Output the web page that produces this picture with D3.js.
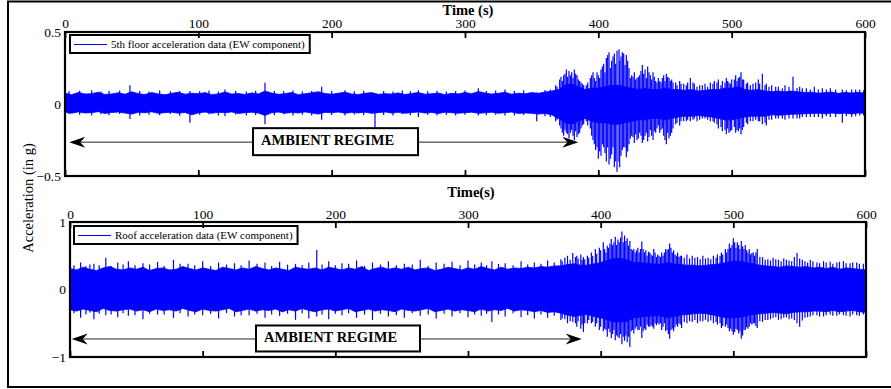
<!DOCTYPE html>
<html>
<head>
<meta charset="utf-8">
<script src="https://cdn.jsdelivr.net/npm/d3@7"></script>
<style>
  body { margin: 0; background: #fff; }
  svg { display: block; }
  text { font-family: "Liberation Serif", "Times New Roman", serif; fill: #000; }
</style>
</head>
<body>
<svg id="chart" width="891" height="389"></svg>
<script>
// ---- data -------------------------------------------------------------
const timeTicks = [0, 100, 200, 300, 400, 500, 600];
const fifthYTicks = [0.5, 0, -0.5];
const roofYTicks = [1, 0, -1];
const sampleStep = 5; // seconds between envelope samples (t = 0 … 600)

// 5th floor record: dense core of the trace (upper / lower edge, g)
const fifthCoreHi = [
  0.075,0.065,0.08,0.07,0.072,0.082,0.066,0.07,0.078,0.068,
  0.085,0.072,0.066,0.079,0.07,0.064,0.074,0.081,0.068,0.075,
  0.071,0.079,0.065,0.07,0.083,0.069,0.073,0.066,0.077,0.07,
  0.09,0.076,0.067,0.072,0.08,0.065,0.071,0.078,0.085,0.073,
  0.068,0.075,0.082,0.07,0.066,0.074,0.079,0.067,0.072,0.069,
  0.077,0.066,0.073,0.08,0.068,0.071,0.076,0.065,0.074,0.07,
  0.08,0.072,0.086,0.077,0.069,0.074,0.081,0.068,0.075,0.071,
  0.079,0.074,0.083,0.09,
  0.1,0.13,0.14,0.12,0.1,0.11,0.11,0.12,0.13,0.13,
  0.12,0.11,0.1,0.11,0.1,0.1,0.11,0.1,0.1,0.095,
  0.1,0.09,0.095,0.1,0.1,0.11,0.11,0.12,0.1,0.095,
  0.1,0.09,0.085,0.09,0.085,0.09,0.085,0.08,0.082,0.075,
  0.079,0.083,0.074,0.08,0.076,0.081,0.075
];
const fifthCoreLo = [
  -0.058,-0.064,-0.055,-0.062,-0.06,-0.053,-0.066,-0.059,-0.056,-0.063,
  -0.07,-0.058,-0.061,-0.054,-0.065,-0.06,-0.057,-0.064,-0.059,-0.075,
  -0.062,-0.056,-0.064,-0.058,-0.061,-0.055,-0.066,-0.06,-0.057,-0.063,
  -0.08,-0.061,-0.056,-0.064,-0.059,-0.062,-0.055,-0.063,-0.07,-0.058,
  -0.061,-0.056,-0.064,-0.059,-0.062,-0.057,-0.065,-0.06,-0.055,-0.063,
  -0.058,-0.064,-0.06,-0.055,-0.063,-0.059,-0.066,-0.057,-0.061,-0.064,
  -0.06,-0.057,-0.065,-0.061,-0.058,-0.064,-0.06,-0.056,-0.066,-0.062,
  -0.065,-0.07,-0.066,-0.075,
  -0.1,-0.13,-0.14,-0.12,-0.1,-0.12,-0.13,-0.13,-0.14,-0.14,
  -0.13,-0.12,-0.11,-0.11,-0.1,-0.1,-0.11,-0.1,-0.09,-0.085,
  -0.085,-0.08,-0.085,-0.09,-0.1,-0.11,-0.11,-0.1,-0.09,-0.085,
  -0.085,-0.085,-0.075,-0.078,-0.075,-0.072,-0.07,-0.068,-0.066,-0.064,
  -0.068,-0.063,-0.067,-0.064,-0.069,-0.062,-0.066
];
// 5th floor record: individual peaks [time s, max g, min g]
const fifthPeaks = [
  [3,0.088,-0.07],[11,0.092,-0.075],[20,0.095,-0.08],[27,0.086,-0.072],[33,0.09,-0.078],
  [41,0.094,-0.07],[48.7,0.13,-0.105],[56,0.09,-0.08],[63,0.087,-0.074],[71,0.093,-0.078],
  [79,0.088,-0.07],[86,0.091,-0.082],[93.7,0.09,-0.13],[101,0.089,-0.075],[108,0.094,-0.072],
  [115,0.087,-0.079],[120,0.1,-0.085],[128,0.09,-0.073],[136,0.086,-0.08],[143,0.092,-0.076],
  [150,0.148,-0.14],[157,0.09,-0.078],[164,0.088,-0.072],[171,0.093,-0.08],[178,0.087,-0.075],
  [185,0.091,-0.079],[192.5,0.12,-0.11],[200,0.09,-0.077],[210,0.095,-0.08],[217,0.088,-0.073],
  [224,0.092,-0.078],[232.5,0.07,-0.176],[239,0.09,-0.076],[246,0.087,-0.08],[253,0.093,-0.072],
  [259,0.088,-0.078],[265,0.095,-0.09],[272,0.089,-0.074],[279,0.092,-0.08],[286,0.087,-0.076],
  [293,0.09,-0.079],[300,0.093,-0.074],[310,0.11,-0.08],[316,0.09,-0.078],[323,0.094,-0.075],
  [330,0.1,-0.08],[337,0.091,-0.08],[344,0.095,-0.077],[353.8,0.08,-0.12],[360,0.098,-0.085],
  [364,0.1,-0.09],
  [368,0.13,-0.12],[369,0.12,-0.11],[371,0.17,-0.15],[372,0.19,-0.17],[373,0.16,-0.2],
  [374,0.2,-0.22],[375,0.21,-0.18],[376,0.24,-0.2],[377,0.19,-0.21],[378,0.23,-0.24],
  [379,0.2,-0.2],[380,0.22,-0.18],[381,0.18,-0.22],[382,0.24,-0.25],[383,0.21,-0.19],
  [384,0.2,-0.23],[385,0.17,-0.21],[386,0.16,-0.2],[387,0.15,-0.17],[388,0.14,-0.15],
  [389,0.13,-0.14],[391,0.13,-0.12],[392,0.15,-0.15],[394,0.18,-0.17],[395,0.2,-0.22],
  [396,0.22,-0.25],[397,0.18,-0.28],[398,0.16,-0.32],[399,0.22,-0.3],[400,0.2,-0.38],
  [401,0.18,-0.33],[402,0.24,-0.36],[403,0.26,-0.28],[404,0.28,-0.3],[405,0.22,-0.34],
  [406,0.32,-0.4],[407,0.34,-0.3],[408,0.36,-0.42],[409,0.25,-0.38],[410,0.3,-0.35],
  [411,0.33,-0.3],[412,0.35,-0.44],[413,0.28,-0.4],[414,0.37,-0.47],[415.5,0.38,-0.4],
  [416,0.3,-0.44],[417,0.33,-0.36],[418,0.36,-0.32],[419,0.35,-0.3],[420,0.27,-0.3],
  [421,0.34,-0.37],[422,0.3,-0.33],[423,0.25,-0.28],[424,0.18,-0.24],[425,0.2,-0.22],
  [426,0.19,-0.23],[427,0.22,-0.27],[428,0.17,-0.21],[429,0.18,-0.25],[430,0.19,-0.24],
  [431,0.2,-0.2],[432,0.23,-0.22],[433,0.27,-0.27],[434,0.21,-0.25],[435,0.24,-0.22],
  [436,0.18,-0.2],[437,0.26,-0.26],[438,0.22,-0.23],[439,0.2,-0.18],[440,0.17,-0.22],
  [441,0.22,-0.25],[442,0.19,-0.19],[443,0.16,-0.2],[444,0.15,-0.17],[445,0.18,-0.15],
  [446,0.16,-0.2],[447,0.15,-0.18],[448,0.18,-0.17],[449,0.2,-0.22],[450,0.16,-0.25],
  [451,0.21,-0.28],[452,0.19,-0.2],[453,0.18,-0.24],[454,0.16,-0.22],[455,0.17,-0.2],
  [456,0.15,-0.17],[458,0.15,-0.14],[459,0.13,-0.13],[461,0.16,-0.15],[462,0.14,-0.12],
  [464,0.14,-0.12],[466,0.13,-0.12],[467,0.15,-0.11],[469,0.18,-0.12],[471,0.15,-0.11],
  [472,0.14,-0.1],[474,0.12,-0.12],[476,0.13,-0.11],[478,0.13,-0.1],[480,0.14,-0.1],
  [482,0.12,-0.11],[484,0.15,-0.12],[486,0.14,-0.12],[487,0.16,-0.13],[489,0.15,-0.14],
  [490,0.17,-0.17],[492,0.13,-0.16],[493,0.16,-0.19],[495,0.15,-0.18],[496,0.18,-0.21],
  [497,0.16,-0.17],[498,0.15,-0.2],[499,0.14,-0.19],[500,0.17,-0.18],[502,0.17,-0.16],
  [503,0.2,-0.2],[504,0.16,-0.18],[505,0.18,-0.19],[506,0.19,-0.17],[507,0.22,-0.21],
  [508,0.17,-0.18],[509,0.17,-0.16],[511,0.14,-0.13],[512,0.15,-0.14],[514,0.13,-0.12],
  [516,0.14,-0.12],[518,0.15,-0.11],[520,0.17,-0.12],[521,0.14,-0.12],[523,0.21,-0.14],
  [525,0.13,-0.13],[526,0.14,-0.15],[528,0.12,-0.11],[530,0.13,-0.11],[533,0.12,-0.1],
  [535,0.12,-0.1],[538,0.11,-0.1],[540,0.13,-0.11],[543,0.12,-0.1],[546,0.19,-0.1],
  [549,0.11,-0.1],[551,0.12,-0.1],[553,0.11,-0.09],[556,0.11,-0.09],[559,0.1,-0.09],
  [562,0.12,-0.09],[565,0.1,-0.09],[568,0.11,-0.1],[571,0.1,-0.085],[574,0.11,-0.09],
  [578,0.1,-0.09],[583,0.1,-0.13],[586,0.095,-0.085],[590,0.1,-0.09],[593,0.1,-0.085],
  [596,0.1,-0.08],[599,0.095,-0.08]
];

// Roof record: dense core of the trace (upper / lower edge, g)
const roofCoreHi = [
  0.31,0.29,0.33,0.3,0.28,0.32,0.34,0.3,0.29,0.32,
  0.3,0.33,0.28,0.31,0.32,0.29,0.3,0.34,0.31,0.29,
  0.32,0.3,0.28,0.33,0.31,0.29,0.32,0.3,0.34,0.31,
  0.29,0.32,0.3,0.28,0.33,0.31,0.3,0.32,0.29,0.33,
  0.31,0.29,0.32,0.3,0.34,0.28,0.31,0.33,0.3,0.32,
  0.3,0.33,0.29,0.31,0.32,0.28,0.3,0.33,0.31,0.29,
  0.32,0.3,0.34,0.31,0.29,0.33,0.3,0.32,0.31,0.33,
  0.32,0.34,0.33,0.35,
  0.35,0.37,0.38,0.36,0.36,0.38,0.4,0.43,0.46,0.46,
  0.44,0.4,0.4,0.39,0.38,0.37,0.4,0.38,0.37,0.36,
  0.36,0.35,0.36,0.37,0.38,0.4,0.42,0.42,0.4,0.38,
  0.36,0.35,0.34,0.33,0.35,0.34,0.33,0.34,0.32,0.33,
  0.31,0.33,0.3,0.32,0.31,0.3,0.29
];
const roofCoreLo = [
  -0.3,-0.32,-0.29,-0.31,-0.33,-0.28,-0.31,-0.32,-0.3,-0.29,
  -0.32,-0.3,-0.33,-0.29,-0.31,-0.3,-0.32,-0.28,-0.31,-0.33,
  -0.29,-0.31,-0.32,-0.3,-0.28,-0.33,-0.31,-0.29,-0.32,-0.3,
  -0.31,-0.29,-0.33,-0.3,-0.32,-0.28,-0.31,-0.33,-0.3,-0.29,
  -0.32,-0.3,-0.28,-0.33,-0.31,-0.29,-0.32,-0.3,-0.31,-0.33,
  -0.29,-0.31,-0.32,-0.3,-0.28,-0.33,-0.31,-0.29,-0.32,-0.3,
  -0.31,-0.33,-0.29,-0.32,-0.3,-0.31,-0.28,-0.32,-0.3,-0.31,
  -0.33,-0.31,-0.34,-0.33,
  -0.35,-0.38,-0.4,-0.38,-0.37,-0.4,-0.42,-0.45,-0.48,-0.48,
  -0.47,-0.42,-0.41,-0.4,-0.39,-0.39,-0.42,-0.4,-0.38,-0.37,
  -0.36,-0.35,-0.36,-0.38,-0.4,-0.42,-0.42,-0.41,-0.39,-0.37,
  -0.36,-0.35,-0.34,-0.35,-0.36,-0.34,-0.33,-0.33,-0.32,-0.32,
  -0.33,-0.31,-0.33,-0.32,-0.31,-0.33,-0.34
];
// Roof record: individual peaks [time s, max g, min g]
const roofPeaks = [
  [3,0.36,-0.35],[8,0.4,-0.42],[12,0.35,-0.37],[15,0.37,-0.34],[18,0.38,-0.44],
  [22,0.36,-0.36],[27,0.47,-0.38],[31,0.35,-0.37],[36,0.4,-0.41],[40,0.37,-0.35],
  [44,0.42,-0.39],[49,0.36,-0.38],[55,0.39,-0.44],[60,0.37,-0.36],[66,0.41,-0.37],
  [71,0.35,-0.37],[78,0.44,-0.42],[83,0.38,-0.35],[89,0.38,-0.4],[94,0.36,-0.37],
  [100,0.42,-0.38],[106,0.35,-0.36],[112,0.4,-0.43],[118,0.37,-0.35],[124,0.39,-0.4],
  [129,0.36,-0.38],[135,0.43,-0.38],[141,0.38,-0.36],[147,0.4,-0.42],[152,0.35,-0.37],
  [158,0.41,-0.39],[164,0.37,-0.36],[170,0.38,-0.45],[175,0.36,-0.35],[180,0.4,-0.43],
  [186,0.585,-0.4],[190,0.37,-0.37],[195,0.42,-0.44],[200,0.36,-0.36],[205,0.39,-0.38],
  [210,0.38,-0.35],[216,0.43,-0.42],[222,0.35,-0.37],[228,0.4,-0.45],[234,0.37,-0.36],
  [240,0.42,-0.4],[246,0.36,-0.38],[252,0.38,-0.42],[258,0.37,-0.35],[264,0.44,-0.39],
  [270,0.35,-0.37],[276,0.4,-0.43],[282,0.38,-0.36],[288,0.41,-0.4],[294,0.36,-0.35],
  [300,0.43,-0.41],[305,0.37,-0.37],[310,0.4,-0.39],[314,0.36,-0.36],[318,0.42,-0.48],
  [323,0.38,-0.37],[328,0.39,-0.4],[334,0.36,-0.35],[340,0.42,-0.41],[345,0.37,-0.38],
  [350,0.4,-0.43],[355,0.38,-0.37],[360,0.43,-0.42],[365,0.4,-0.39],
  [370,0.45,-0.45],[371,0.42,-0.43],[373,0.47,-0.44],[375,0.5,-0.5],[377,0.44,-0.47],
  [379,0.54,-0.48],[381,0.48,-0.5],[382,0.5,-0.55],[383,0.46,-0.47],[385,0.52,-0.58],
  [386,0.44,-0.52],[387,0.48,-0.63],[388,0.45,-0.5],[390,0.5,-0.5],[391,0.47,-0.45],
  [393,0.55,-0.5],[394,0.5,-0.48],[396,0.6,-0.55],[397,0.53,-0.5],[399,0.62,-0.6],
  [400,0.58,-0.55],[402,0.7,-0.62],[403,0.6,-0.58],[404,0.55,-0.6],[405,0.65,-0.7],
  [406,0.62,-0.58],[407,0.68,-0.63],[408,0.75,-0.72],[409,0.66,-0.66],[410,0.7,-0.6],
  [411,0.78,-0.75],[412,0.66,-0.68],[413,0.74,-0.7],[414,0.7,-0.72],[415,0.77,-0.66],
  [416,0.86,-0.81],[417,0.7,-0.7],[418,0.8,-0.76],[419,0.72,-0.68],[420,0.76,-0.78],
  [421,0.65,-0.7],[422,0.72,-0.85],[423,0.6,-0.62],[424,0.58,-0.6],[425,0.6,-0.65],
  [426,0.55,-0.58],[427,0.58,-0.55],[428,0.62,-0.6],[429,0.55,-0.6],[430,0.6,-0.55],
  [431,0.71,-0.72],[432,0.6,-0.62],[433,0.55,-0.58],[434,0.58,-0.6],[435,0.5,-0.52],
  [436,0.56,-0.55],[437,0.55,-0.55],[438,0.52,-0.53],[439,0.5,-0.55],[440,0.6,-0.58],
  [441,0.55,-0.5],[442,0.48,-0.53],[443,0.52,-0.5],[444,0.5,-0.52],[445,0.48,-0.5],
  [446,0.55,-0.6],[447,0.5,-0.55],[448,0.55,-0.5],[449,0.6,-0.62],[450,0.58,-0.6],
  [451,0.6,-0.66],[452,0.68,-0.73],[453,0.62,-0.6],[454,0.55,-0.58],[455,0.58,-0.62],
  [456,0.52,-0.56],[457,0.5,-0.52],[458,0.55,-0.55],[459,0.48,-0.5],[460,0.5,-0.52],
  [461,0.5,-0.57],[463,0.47,-0.48],[465,0.52,-0.5],[467,0.46,-0.47],[469,0.5,-0.48],
  [471,0.47,-0.45],[473,0.48,-0.5],[475,0.45,-0.47],[477,0.5,-0.47],[479,0.46,-0.45],
  [481,0.47,-0.48],[483,0.45,-0.46],[485,0.5,-0.5],[487,0.47,-0.48],[488,0.52,-0.52],
  [490,0.5,-0.5],[491,0.55,-0.57],[492,0.52,-0.54],[494,0.6,-0.55],[495,0.55,-0.52],
  [496,0.6,-0.57],[497,0.68,-0.62],[498,0.62,-0.58],[499,0.66,-0.62],[500,0.76,-0.67],
  [501,0.7,-0.63],[502,0.62,-0.58],[503,0.7,-0.6],[504,0.66,-0.65],[505,0.6,-0.62],
  [506,0.72,-0.73],[507,0.64,-0.68],[508,0.6,-0.6],[509,0.66,-0.6],[510,0.58,-0.56],
  [511,0.55,-0.58],[512,0.6,-0.55],[513,0.52,-0.5],[514,0.54,-0.52],[515,0.55,-0.5],
  [516,0.5,-0.5],[517,0.55,-0.54],[518,0.6,-0.57],[520,0.48,-0.47],[522,0.48,-0.48],
  [524,0.44,-0.45],[526,0.45,-0.45],[528,0.43,-0.44],[530,0.47,-0.42],[532,0.45,-0.41],
  [534,0.44,-0.45],[536,0.42,-0.44],[538,0.46,-0.42],[540,0.44,-0.41],[542,0.43,-0.44],
  [544,0.42,-0.43],[546,0.48,-0.45],[548,0.54,-0.5],[550,0.46,-0.55],[552,0.44,-0.46],
  [554,0.42,-0.42],[556,0.4,-0.41],[558,0.44,-0.4],[560,0.42,-0.38],[563,0.4,-0.38],
  [565,0.39,-0.4],[568,0.42,-0.4],[570,0.4,-0.38],[573,0.41,-0.37],[575,0.38,-0.39],
  [578,0.4,-0.39],[580,0.41,-0.37],[583,0.42,-0.38],[585,0.39,-0.39],[588,0.39,-0.4],
  [590,0.4,-0.37],[593,0.4,-0.38],[595,0.38,-0.39],[598,0.38,-0.37]
];

// ---- layout -----------------------------------------------------------
const svg = d3.select("#chart");
const SERIF = '"Liberation Serif","Times New Roman",serif';
const BLUE = "#0000ff";

// outer frame (right side falls outside the window)
svg.append("rect")
  .attr("x", 8).attr("y", 1.5).attr("width", 900).attr("height", 385.5)
  .attr("fill", "none").attr("stroke", "#000").attr("stroke-width", 2);

const panels = [
  {
    id: "fifth", x0: 65, x1: 865, yTop: 32, yBot: 176, domain: [-0.5, 0.5],
    yTicks: fifthYTicks, hi: fifthCoreHi, lo: fifthCoreLo, peaks: fifthPeaks,
    title: "Time (s)", titleY: 14.5, labelPad: 4,
    legend: "5th floor acceleration data (EW component)", legDx: 5, legDy: 3,
    arrowG: -0.265, arrowT0: 3.2, arrowT1: 385, boxT: 202.9, boxW: 165, boxH: 27
  },
  {
    id: "roof", x0: 70, x1: 866, yTop: 222, yBot: 357, domain: [-1, 1],
    yTicks: roofYTicks, hi: roofCoreHi, lo: roofCoreLo, peaks: roofPeaks,
    title: "Time(s)", titleY: 197, labelPad: 3,
    legend: "Roof acceleration data (EW component)", legDx: 4, legDy: 4,
    arrowG: -0.733, arrowT0: 1.3, arrowT1: 385.7, boxT: 202, boxW: 164, boxH: 26
  }
];

panels.forEach(p => {
  const x = d3.scaleLinear().domain([0, 600]).range([p.x0, p.x1]);
  const y = d3.scaleLinear().domain(p.domain).range([p.yBot, p.yTop]);
  const g = svg.append("g");

  g.append("clipPath").attr("id", "clip-" + p.id)
    .append("rect").attr("x", p.x0).attr("y", p.yTop)
    .attr("width", p.x1 - p.x0).attr("height", p.yBot - p.yTop);

  const trace = g.append("g").attr("clip-path", `url(#clip-${p.id})`);

  // dense core of the record
  const core = p.hi.map((h, i) => ({ t: i * sampleStep, hi: h, lo: p.lo[i] }));
  trace.append("path")
    .datum(core)
    .attr("fill", BLUE)
    .attr("stroke", BLUE)
    .attr("stroke-width", 0.8)
    .attr("d", d3.area().x(d => x(d.t)).y0(d => y(d.lo)).y1(d => y(d.hi)));

  // individual peaks
  trace.selectAll("line.peak")
    .data(p.peaks)
    .join("line")
    .attr("class", "peak")
    .attr("x1", d => x(d[0])).attr("x2", d => x(d[0]))
    .attr("y1", d => y(d[1])).attr("y2", d => y(d[2]))
    .attr("stroke", BLUE).attr("stroke-width", 1.2);

  // ambient-regime annotation: double arrow with a labelled box
  const ay = y(p.arrowG);
  const ax0 = x(p.arrowT0), ax1 = x(p.arrowT1);
  g.append("line")
    .attr("x1", ax0 + 8).attr("x2", ax1 - 8).attr("y1", ay).attr("y2", ay)
    .attr("stroke", "#222").attr("stroke-width", 1);
  const head = (tx, dir) =>
    `M${tx},${ay} L${tx - dir * 16},${ay - 5.5} L${tx - dir * 11},${ay} L${tx - dir * 16},${ay + 5.5} Z`;
  g.append("path").attr("d", head(ax1, 1)).attr("fill", "#000");
  g.append("path").attr("d", head(ax0, -1)).attr("fill", "#000");
  const bx = x(p.boxT) - p.boxW / 2, by = ay - p.boxH / 2 - 0.5;
  g.append("rect")
    .attr("x", bx).attr("y", by).attr("width", p.boxW).attr("height", p.boxH)
    .attr("fill", "#fff").attr("stroke", "#000").attr("stroke-width", 2);
  g.append("text")
    .attr("x", bx + 8).attr("y", by + 17)
    .attr("font-size", 14.5).attr("font-weight", "bold")
    .text("AMBIENT REGIME");

  // legend
  const lx = p.x0 + p.legDx, ly = p.yTop + p.legDy;
  const legRect = g.append("rect")
    .attr("x", lx).attr("y", ly).attr("height", 18)
    .attr("fill", "#fff").attr("stroke", "#000").attr("stroke-width", 2);
  g.append("line")
    .attr("x1", lx + 4).attr("x2", lx + 37).attr("y1", ly + 9.5).attr("y2", ly + 9.5)
    .attr("stroke", BLUE).attr("stroke-width", 1.2);
  const legText = g.append("text")
    .attr("x", lx + 41).attr("y", ly + 13)
    .attr("font-size", 11)
    .text(p.legend);
  legRect.attr("width", 41 + legText.node().getComputedTextLength() + 5);

  // axes
  const axTop = g.append("g").attr("transform", `translate(0,${p.yTop})`)
    .call(d3.axisTop(x).tickValues(timeTicks).tickSizeInner(-6).tickSizeOuter(0)
      .tickPadding(p.labelPad).tickFormat(d3.format("d")));
  axTop.select(".domain").remove();

  const axBot = g.append("g").attr("transform", `translate(0,${p.yBot})`)
    .call(d3.axisBottom(x).tickValues(timeTicks).tickSizeInner(-6).tickSizeOuter(0)
      .tickFormat(""));
  axBot.select(".domain").remove();

  const axLeft = g.append("g").attr("transform", `translate(${p.x0},0)`)
    .call(d3.axisLeft(y).tickValues(p.yTicks).tickSize(0).tickPadding(4)
      .tickFormat(d3.format("~g")));
  axLeft.select(".domain").remove();

  [axTop, axBot, axLeft].forEach(a => {
    a.attr("font-family", SERIF).attr("font-size", 13.5);
    a.selectAll("line").attr("stroke", "#000").attr("stroke-width", 1.8);
    a.selectAll("text").attr("fill", "#000");
  });

  // plot frame
  g.append("rect")
    .attr("x", p.x0).attr("y", p.yTop)
    .attr("width", p.x1 - p.x0).attr("height", p.yBot - p.yTop)
    .attr("fill", "none").attr("stroke", "#000").attr("stroke-width", 2.2);

  // axis title
  svg.append("text")
    .attr("x", (p.x0 + p.x1) / 2 + 3).attr("y", p.titleY)
    .attr("text-anchor", "middle")
    .attr("font-size", 14.5).attr("font-weight", "bold")
    .text(p.title);
});

// shared y-axis title
svg.append("text")
  .attr("transform", "translate(33,198) rotate(-90)")
  .attr("text-anchor", "middle")
  .attr("font-size", 14.5)
  .text("Acceleration (in g)");
</script>
</body>
</html>
